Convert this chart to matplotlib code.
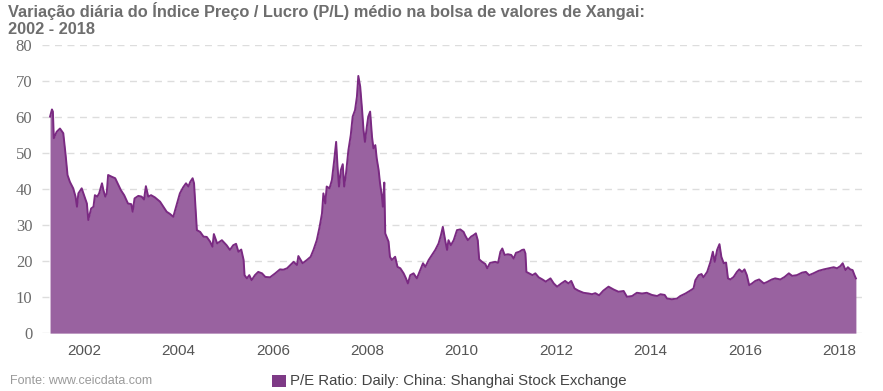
import matplotlib
matplotlib.use("Agg")
import matplotlib.pyplot as plt
from matplotlib.patches import Rectangle

# P/E ratio, Shanghai Stock Exchange (decimal year, value)
years = [
    2001.28, 2001.32, 2001.34, 2001.36, 2001.42, 2001.49, 2001.56, 2001.61, 2001.65, 2001.70,
    2001.77, 2001.82, 2001.85, 2001.88, 2001.95, 2002.01, 2002.06, 2002.09, 2002.15, 2002.20,
    2002.23, 2002.28, 2002.32, 2002.38, 2002.41, 2002.45, 2002.48, 2002.51, 2002.59, 2002.66,
    2002.71, 2002.78, 2002.85, 2002.93, 2003.00, 2003.03, 2003.07, 2003.15, 2003.22, 2003.27,
    2003.31, 2003.36, 2003.42, 2003.50, 2003.61, 2003.68, 2003.75, 2003.82, 2003.89, 2003.96,
    2004.03, 2004.10, 2004.16, 2004.21, 2004.25, 2004.30, 2004.33, 2004.39, 2004.46, 2004.53,
    2004.60, 2004.67, 2004.72, 2004.75, 2004.82, 2004.92, 2005.02, 2005.09, 2005.16, 2005.22,
    2005.27, 2005.33, 2005.38, 2005.40, 2005.45, 2005.50, 2005.55, 2005.62, 2005.69, 2005.77,
    2005.84, 2005.94, 2006.05, 2006.15, 2006.22, 2006.30, 2006.37, 2006.44, 2006.51, 2006.54,
    2006.63, 2006.72, 2006.80, 2006.86, 2006.93, 2006.99, 2007.04, 2007.07, 2007.11, 2007.14,
    2007.20, 2007.25, 2007.30, 2007.34, 2007.37, 2007.40, 2007.44, 2007.48, 2007.51, 2007.55,
    2007.60, 2007.65, 2007.69, 2007.74, 2007.78, 2007.81, 2007.85, 2007.89, 2007.92, 2007.95,
    2007.99, 2008.02, 2008.06, 2008.10, 2008.13, 2008.17, 2008.20, 2008.24, 2008.27, 2008.31,
    2008.33, 2008.36, 2008.38, 2008.45, 2008.48, 2008.52, 2008.59, 2008.64, 2008.70, 2008.77,
    2008.82, 2008.86, 2008.91, 2008.98, 2009.05, 2009.12, 2009.18, 2009.23, 2009.30, 2009.37,
    2009.44, 2009.51, 2009.56, 2009.60, 2009.65, 2009.69, 2009.72, 2009.77, 2009.83, 2009.90,
    2009.97, 2010.04, 2010.07, 2010.13, 2010.20, 2010.25, 2010.30, 2010.34, 2010.37, 2010.43,
    2010.50, 2010.54, 2010.60, 2010.71, 2010.77, 2010.82, 2010.86, 2010.91, 2010.98, 2011.05,
    2011.10, 2011.15, 2011.22, 2011.28, 2011.32, 2011.35, 2011.37, 2011.43, 2011.50, 2011.56,
    2011.63, 2011.71, 2011.78, 2011.88, 2011.95, 2012.02, 2012.11, 2012.19, 2012.26, 2012.32,
    2012.39, 2012.47, 2012.58, 2012.69, 2012.76, 2012.83, 2012.91, 2013.00, 2013.11, 2013.22,
    2013.32, 2013.43, 2013.50, 2013.61, 2013.71, 2013.82, 2013.92, 2014.03, 2014.14, 2014.21,
    2014.30, 2014.35, 2014.45, 2014.56, 2014.63, 2014.74, 2014.84, 2014.91, 2014.95, 2015.02,
    2015.08, 2015.12, 2015.20, 2015.27, 2015.32, 2015.36, 2015.41, 2015.46, 2015.50, 2015.55,
    2015.60, 2015.64, 2015.69, 2015.76, 2015.83, 2015.88, 2015.94, 2015.99, 2016.04, 2016.09,
    2016.15, 2016.22, 2016.30, 2016.40, 2016.47, 2016.57, 2016.64, 2016.75, 2016.84, 2016.93,
    2017.00, 2017.10, 2017.21, 2017.29, 2017.36, 2017.45, 2017.56, 2017.67, 2017.77, 2017.88,
    2017.95, 2018.02, 2018.07, 2018.13, 2018.18, 2018.23, 2018.28, 2018.32, 2018.35,
]
pe_ratio = [
    60.1, 62.1, 61.5, 54.1, 55.9, 56.8, 55.5, 49.4, 43.9, 42.0,
    40.2, 37.9, 35.1, 38.8, 40.2, 37.9, 36.0, 31.4, 34.6, 35.1,
    38.3, 37.9, 38.8, 41.6, 39.7, 37.9, 38.8, 43.9, 43.4, 43.0,
    41.6, 39.7, 38.3, 36.0, 35.8, 33.7, 37.4, 38.1, 37.9, 37.1,
    40.8, 37.9, 38.3, 37.7, 36.5, 35.1, 33.7, 33.1, 32.3, 35.6,
    38.8, 40.5, 41.6, 40.7, 42.0, 43.0, 41.6, 28.6, 28.1, 26.8,
    26.7, 25.4, 24.0, 27.5, 24.9, 25.8, 24.4, 23.1, 24.4, 24.8,
    22.6, 23.2, 20.3, 16.1, 15.2, 16.1, 14.7, 16.1, 17.0, 16.6,
    15.6, 15.5, 16.6, 17.7, 17.6, 18.0, 18.9, 19.8, 18.9, 21.4,
    19.4, 20.3, 21.2, 23.1, 25.8, 29.5, 33.2, 38.8, 36.0, 40.7,
    40.2, 42.5, 48.1, 53.1, 46.2, 40.7, 45.3, 46.9, 40.7, 44.4,
    50.8, 55.0, 60.1, 61.9, 65.6, 71.4, 68.4, 61.9, 56.4, 53.1,
    57.3, 60.1, 61.5, 54.5, 51.3, 52.2, 48.5, 45.3, 41.6, 37.9,
    35.1, 41.8, 27.7, 25.4, 21.2, 20.3, 21.2, 18.4, 18.0, 16.6,
    15.2, 13.8, 16.1, 16.6, 15.2, 17.5, 19.4, 18.4, 20.3, 21.7,
    23.1, 24.9, 27.2, 29.5, 25.8, 23.1, 25.8, 24.4, 25.8, 28.6,
    28.8, 28.1, 27.2, 25.8, 26.8, 27.2, 27.7, 25.8, 20.5, 19.8,
    19.2, 18.0, 19.5, 19.8, 19.5, 22.6, 23.5, 21.7, 21.9, 21.7,
    20.7, 22.3, 22.6, 23.1, 23.2, 22.1, 17.0, 16.6, 16.1, 16.6,
    15.5, 14.9, 14.3, 15.2, 13.8, 12.9, 13.8, 14.5, 13.8, 14.5,
    12.4, 11.8, 11.2, 11.0, 10.8, 11.1, 10.5, 11.8, 12.9, 12.1,
    11.5, 11.7, 10.1, 10.3, 11.2, 11.0, 11.2, 10.6, 10.3, 10.8,
    10.6, 9.6, 9.4, 9.6, 10.3, 11.0, 11.8, 12.4, 14.7, 16.1,
    16.4, 15.5, 17.0, 19.8, 22.6, 19.8, 23.1, 24.7, 21.2, 19.4,
    19.6, 15.2, 14.9, 15.6, 17.0, 17.7, 17.0, 17.7, 16.1, 13.3,
    13.8, 14.5, 14.9, 13.8, 14.2, 14.9, 15.2, 14.9, 15.6, 16.6,
    15.9, 16.1, 16.8, 17.0, 16.1, 16.6, 17.3, 17.7, 18.0, 18.3,
    18.0, 18.6, 19.4, 17.5, 18.3, 17.7, 17.5, 16.1, 15.2,
]

y_ticks = [0, 10, 20, 30, 40, 50, 60, 70, 80]
x_ticks = [2002, 2004, 2006, 2008, 2010, 2012, 2014, 2016, 2018]

title = "Variação diária do Índice Preço / Lucro (P/L) médio na bolsa de valores de Xangai:\n2002 - 2018"
series_label = "P/E Ratio: Daily: China: Shanghai Stock Exchange"
source = "Fonte: www.ceicdata.com"

fill_color = "#9962a0"
line_color = "#7a2a82"
sans = "Liberation Sans"

fig = plt.figure(figsize=(8.83, 3.91), dpi=100)
ax = fig.add_axes([0.0476, 0.148, 0.9324, 0.737])

ax.fill_between(years, pe_ratio, 0, color=fill_color, linewidth=0, zorder=2)
ax.plot(years, pe_ratio, color=line_color, linewidth=1.4, zorder=3)

ax.set_xlim(2001.11, 2018.55)
ax.set_ylim(0, 80)
ax.set_yticks(y_ticks)
ax.set_xticks(x_ticks)
ax.set_yticklabels([str(v) for v in y_ticks], family="Liberation Serif",
                   fontsize=12, color="#6b6b6b")
ax.set_xticklabels([str(v) for v in x_ticks], family=sans,
                   fontsize=11, color="#555555")
ax.tick_params(axis="both", length=0)
ax.tick_params(axis="y", pad=7)
ax.tick_params(axis="x", pad=8)

ax.grid(axis="y", color="#dddddd", linestyle=(0, (5, 4)), linewidth=1, zorder=1)
ax.set_axisbelow(True)
for s in ax.spines.values():
    s.set_visible(False)

fig.text(8 / 883, 1 - 2 / 391, title, ha="left", va="top", fontsize=11.8,
         fontweight="bold", family=sans, color="#6e6e6e", linespacing=1.2)

fig.text(10 / 883, 1 - 381 / 391, source, ha="left", va="center", fontsize=9,
         family=sans, color="#9a9a9a")

fig.patches.append(Rectangle((272 / 883, 1 - 387 / 391), 14 / 883, 12 / 391,
                             transform=fig.transFigure, facecolor="#7e3a86",
                             edgecolor="none"))
fig.text(290 / 883, 1 - 381 / 391, series_label, ha="left", va="center",
         fontsize=10.8, family=sans, color="#444444")

fig.savefig("out.png", dpi=100)
